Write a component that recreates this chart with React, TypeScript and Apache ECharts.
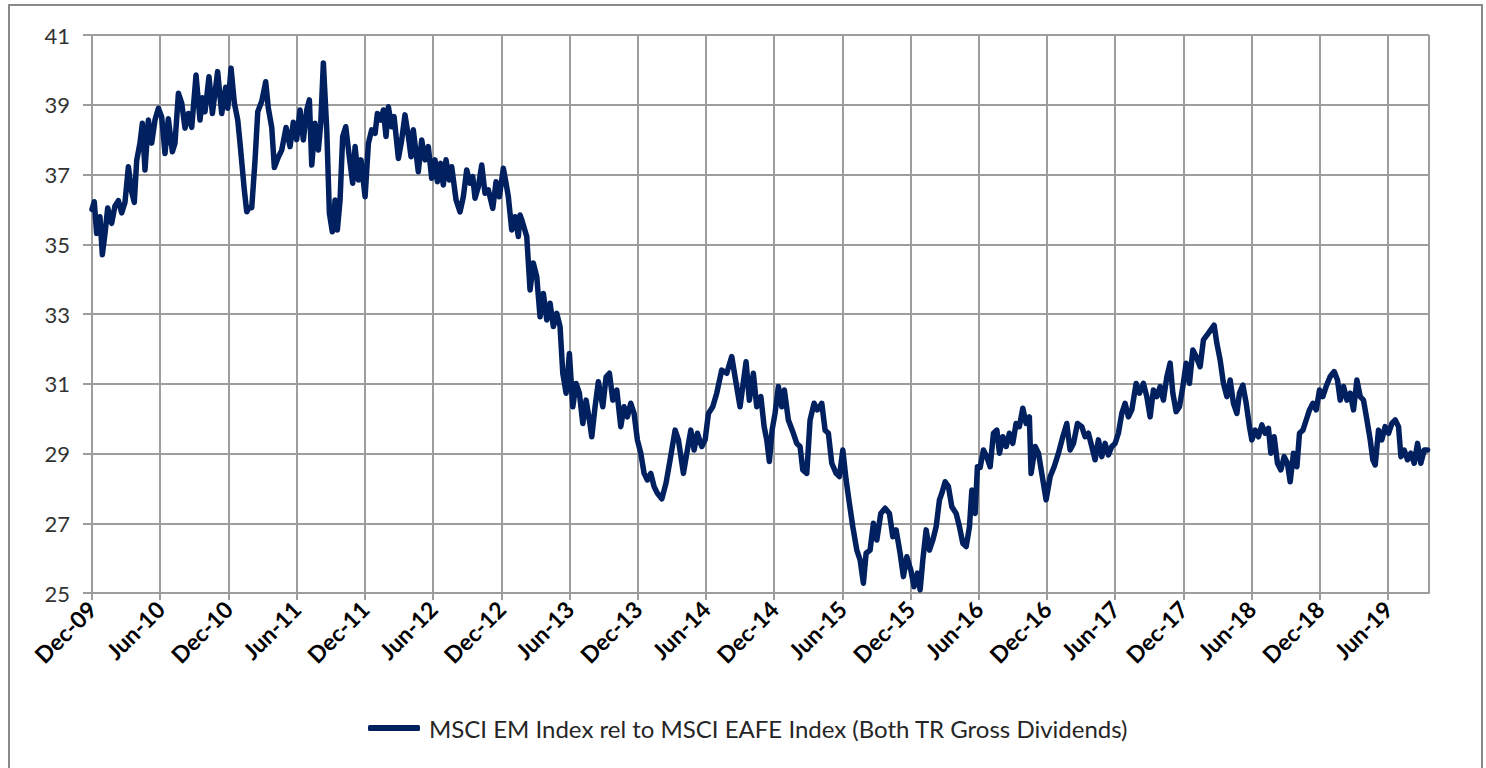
import React, { useEffect, useRef } from 'react';
import * as echarts from 'echarts';

const SERIES_NAME = 'MSCI EM Index rel to MSCI EAFE Index (Both TR Gross Dividends)';

const xTickLabels = [
  'Dec-09', 'Jun-10', 'Dec-10', 'Jun-11', 'Dec-11', 'Jun-12', 'Dec-12', 'Jun-13', 'Dec-13', 'Jun-14',
  'Dec-14', 'Jun-15', 'Dec-15', 'Jun-16', 'Dec-16', 'Jun-17', 'Dec-17', 'Jun-18', 'Dec-18', 'Jun-19',
];

// months elapsed since Dec-09
const months = [
  0, 0.2, 0.41, 0.7, 0.91, 1.14, 1.38, 1.73, 2.02, 2.32, 2.61, 2.9, 3.2, 3.49, 3.72, 3.93, 4.22, 4.43, 4.66, 4.96,
  5.25, 5.54, 5.84, 6.13, 6.42, 6.71, 7.07, 7.3, 7.6, 7.89, 8.18, 8.48, 8.77, 9.15, 9.5, 9.71, 9.94, 10.29, 10.59, 11.05,
  11.41, 11.76, 11.94, 12.23, 12.52, 12.82, 13.02, 13.4, 13.61, 13.81, 14.05, 14.34, 14.58, 14.93, 15.28, 15.51, 15.81, 16.04, 16.39, 16.69,
  17.07, 17.42, 17.71, 18.0, 18.3, 18.59, 18.89, 19.12, 19.33, 19.62, 19.91, 20.12, 20.35, 20.65, 20.88, 21.14, 21.38, 21.58, 21.82, 22.05,
  22.32, 22.63, 22.93, 23.14, 23.43, 23.66, 24.02, 24.31, 24.6, 24.9, 25.1, 25.4, 25.63, 25.86, 26.07, 26.36, 26.57, 26.95, 27.24, 27.53,
  27.83, 28.06, 28.26, 28.7, 29.0, 29.29, 29.58, 29.88, 30.17, 30.38, 30.67, 30.9, 31.14, 31.43, 31.64, 32.02, 32.37, 32.66, 32.96, 33.25,
  33.49, 33.69, 33.98, 34.28, 34.57, 34.86, 35.25, 35.54, 35.83, 36.18, 36.42, 36.62, 36.92, 37.21, 37.5, 37.65, 37.8, 38.24, 38.53, 38.82,
  39.12, 39.41, 39.7, 40.0, 40.29, 40.58, 40.88, 41.17, 41.41, 41.7, 41.99, 42.29, 42.58, 42.87, 43.17, 43.46, 43.75, 43.96, 44.25, 44.54,
  44.93, 45.22, 45.51, 45.81, 46.16, 46.51, 46.8, 47.09, 47.39, 47.68, 47.97, 48.27, 48.56, 48.85, 49.15, 49.44, 49.73, 50.12, 50.49, 50.85,
  51.29, 51.58, 52.02, 52.32, 52.67, 52.96, 53.25, 53.64, 53.93, 54.22, 54.6, 54.95, 55.39, 55.83, 56.27, 56.56, 57.0, 57.53, 57.82, 58.17,
  58.47, 58.83, 59.12, 59.35, 59.58, 59.82, 60.08, 60.37, 60.67, 60.9, 61.25, 61.69, 61.99, 62.28, 62.52, 62.87, 63.16, 63.51, 63.8, 64.19,
  64.48, 64.77, 65.07, 65.45, 65.74, 66.04, 66.33, 66.62, 66.92, 67.27, 67.56, 67.85, 68.09, 68.44, 68.73, 69.03, 69.38, 69.76, 70.14, 70.44,
  70.73, 71.08, 71.37, 71.67, 72.02, 72.31, 72.6, 72.84, 73.08, 73.37, 73.66, 73.96, 74.25, 74.54, 74.75, 75.04, 75.33, 75.63, 76.01, 76.3,
  76.6, 76.89, 77.18, 77.39, 77.68, 77.88, 78.12, 78.41, 78.7, 79.0, 79.29, 79.59, 79.82, 80.11, 80.41, 80.69, 80.99, 81.28, 81.57, 81.87,
  82.16, 82.45, 82.6, 82.96, 83.25, 83.54, 83.92, 84.28, 84.63, 85.01, 85.39, 85.74, 86.03, 86.33, 86.68, 87.06, 87.35, 87.64, 87.94, 88.23,
  88.52, 88.82, 89.11, 89.4, 89.7, 89.99, 90.28, 90.58, 90.87, 91.16, 91.46, 91.84, 92.13, 92.48, 92.78, 93.07, 93.36, 93.66, 93.95, 94.24,
  94.54, 94.83, 95.07, 95.36, 95.65, 95.95, 96.24, 96.53, 96.83, 97.12, 97.47, 97.76, 98.2, 98.7, 98.94, 99.23, 99.52, 99.82, 100.11, 100.4,
  100.7, 100.93, 101.23, 101.52, 101.81, 102.02, 102.31, 102.6, 102.9, 103.19, 103.48, 103.69, 103.98, 104.27, 104.57, 104.86, 105.15, 105.39, 105.68, 105.98,
  106.21, 106.51, 106.8, 107.09, 107.39, 107.68, 107.97, 108.26, 108.55, 108.9, 109.26, 109.55, 109.79, 110.08, 110.38, 110.67, 110.96, 111.26, 111.55, 111.84,
  112.14, 112.43, 112.66, 112.87, 113.16, 113.45, 113.74, 114.04, 114.33, 114.63, 114.92, 115.13, 115.42, 115.71, 116.0, 116.3, 116.59, 116.88, 117.18, 117.47,
];

const values = [
  36.0, 36.22, 35.31, 35.79, 34.7, 35.3, 36.04, 35.6, 36.1, 36.25, 35.9, 36.2, 37.22, 36.5, 36.2, 37.4, 37.9, 38.47, 37.13, 38.56,
  37.9, 38.56, 38.9, 38.65, 37.6, 38.6, 37.65, 37.9, 39.33, 39.05, 38.33, 38.75, 38.35, 39.85, 38.56, 39.2, 38.8, 39.8, 38.75, 39.95,
  38.75, 39.5, 38.9, 40.05, 39.05, 38.56, 37.9, 36.55, 35.93, 36.05, 36.05, 37.4, 38.8, 39.1, 39.66, 38.9, 38.35, 37.2, 37.5, 37.7,
  38.35, 37.8, 38.5, 38.0, 38.85, 37.99, 38.85, 39.14, 37.27, 38.47, 37.7, 38.47, 40.2, 38.28, 35.89, 35.36, 36.27, 35.41, 36.27, 38.09,
  38.37, 37.51, 36.75, 37.8, 36.84, 37.42, 36.36, 37.89, 38.28, 38.18, 38.75, 38.56, 38.85, 38.09, 38.94, 38.37, 38.66, 37.46, 37.99, 38.71,
  38.09, 37.51, 38.28, 37.08, 37.99, 37.42, 37.8, 36.89, 37.42, 36.79, 37.32, 36.7, 37.42, 36.84, 37.22, 36.27, 35.93, 36.36, 37.13, 36.75,
  36.94, 36.32, 36.65, 37.27, 36.46, 36.56, 36.03, 36.79, 36.36, 37.18, 36.75, 36.36, 35.41, 35.79, 35.22, 35.84, 35.7, 35.22, 33.69, 34.46,
  34.07, 32.92, 33.59, 32.83, 33.31, 32.64, 33.02, 32.64, 31.3, 30.73, 31.87, 30.34, 31.01, 30.73, 29.86, 30.53, 29.96, 29.48, 30.34, 31.06,
  30.34, 31.2, 31.3, 30.53, 30.82, 29.77, 30.34, 30.05, 30.44, 30.15, 29.39, 29.01, 28.43, 28.24, 28.43, 28.05, 27.86, 27.7, 28.15, 28.82,
  29.67, 29.39, 28.43, 29.01, 29.67, 29.1, 29.58, 29.2, 29.39, 30.15, 30.34, 30.73, 31.39, 31.3, 31.78, 31.2, 30.34, 31.63, 30.53, 31.3,
  30.34, 30.63, 29.77, 29.39, 28.77, 29.67, 30.15, 30.92, 30.34, 30.82, 29.96, 29.58, 29.29, 29.2, 28.53, 28.43, 29.96, 30.44, 30.25, 30.44,
  29.67, 29.58, 28.72, 28.43, 28.34, 29.1, 28.24, 27.57, 26.9, 26.23, 25.95, 25.28, 26.14, 26.23, 27.0, 26.52, 27.28, 27.43, 27.28, 26.61,
  26.81, 26.14, 25.47, 26.04, 25.66, 25.18, 25.57, 25.09, 25.95, 26.81, 26.23, 26.52, 26.9, 27.67, 27.86, 28.19, 28.05, 27.47, 27.28, 26.9,
  26.42, 26.33, 26.9, 27.95, 27.28, 28.62, 28.6, 29.1, 28.91, 28.62, 29.58, 29.67, 29.01, 29.48, 29.2, 29.58, 29.29, 29.86, 29.77, 30.3,
  29.86, 30.05, 28.43, 29.2, 29.01, 28.43, 27.67, 28.34, 28.62, 29.01, 29.48, 29.86, 29.1, 29.29, 29.86, 29.77, 29.48, 29.58, 29.2, 28.82,
  29.39, 28.91, 29.29, 28.96, 29.2, 29.29, 29.58, 30.15, 30.44, 30.05, 30.25, 31.01, 30.73, 31.01, 30.63, 30.05, 30.82, 30.63, 30.92, 30.53,
  31.2, 31.59, 30.73, 30.2, 30.34, 30.92, 31.59, 31.01, 31.97, 31.78, 31.49, 32.26, 32.45, 32.68, 32.16, 31.68, 31.01, 30.63, 31.11, 30.44,
  30.15, 30.73, 30.96, 30.44, 29.77, 29.39, 29.67, 29.48, 29.82, 29.58, 29.72, 29.01, 29.48, 28.72, 28.53, 28.91, 28.72, 28.19, 29.01, 28.62,
  29.58, 29.67, 29.96, 30.25, 30.44, 30.25, 30.82, 30.63, 30.92, 31.2, 31.35, 31.11, 30.53, 30.92, 30.53, 30.73, 30.25, 31.11, 30.63, 30.53,
  29.96, 29.39, 28.82, 28.67, 29.67, 29.39, 29.77, 29.58, 29.86, 29.96, 29.77, 28.91, 29.1, 28.82, 29.01, 28.72, 29.29, 28.72, 29.1, 29.1,
];

const Y_MIN = 25;
const Y_MAX = 41;
const Y_STEP = 2;
const X_STEP = 6;
const X_END = 117.6;

const FONT = 'Lato, "Open Sans", sans-serif';
const GRID_COLOR = '#9d9d9d';
const LINE_COLOR = '#002060';

export default function App() {
  const ref = useRef<HTMLDivElement>(null);

  useEffect(() => {
    if (!ref.current) return;
    const chart = echarts.init(ref.current, undefined, { renderer: 'svg' });
    const data = months.map((m, i) => [m, values[i]]);
    chart.setOption({
      animation: false,
      backgroundColor: '#ffffff',
      graphic: [
        {
          type: 'rect',
          shape: { x: 9, y: 5, width: 1473, height: 800 },
          style: { fill: 'none', stroke: '#8a8a8a', lineWidth: 2 },
          silent: true,
        },
      ],
      grid: { left: 92, top: 35, right: 57, bottom: 175, containLabel: false },
      legend: {
        data: [{ name: SERIES_NAME, icon: 'roundRect', itemStyle: { color: LINE_COLOR } }],
        left: 368,
        top: 716,
        padding: 0,
        itemWidth: 52,
        itemHeight: 6,
        textStyle: { fontFamily: FONT, fontSize: 24, color: '#262626', padding: [0, 0, 0, 4] },
      },
      xAxis: {
        type: 'value',
        min: 0,
        max: X_END,
        interval: X_STEP,
        axisLine: { show: true, lineStyle: { color: GRID_COLOR, width: 2 } },
        axisTick: { show: true, length: 7, lineStyle: { color: GRID_COLOR, width: 2 } },
        splitLine: { show: true, lineStyle: { color: GRID_COLOR, width: 2 } },
        axisLabel: {
          rotate: 45,
          margin: 12,
          showMaxLabel: false,
          fontFamily: FONT,
          fontWeight: 'bold',
          fontSize: 23,
          color: '#000000',
          formatter: (v: number) => {
            const idx = Math.round(v / X_STEP);
            return Math.abs(v - idx * X_STEP) < 1e-6 && xTickLabels[idx] ? xTickLabels[idx] : '';
          },
        },
      },
      yAxis: {
        type: 'value',
        min: Y_MIN,
        max: Y_MAX,
        interval: Y_STEP,
        axisLine: { show: true, lineStyle: { color: GRID_COLOR, width: 2 } },
        axisTick: { show: true, length: 9, lineStyle: { color: GRID_COLOR, width: 2 } },
        splitLine: { show: true, lineStyle: { color: GRID_COLOR, width: 2 } },
        axisLabel: {
          margin: 22,
          fontFamily: FONT,
          fontSize: 22,
          color: '#333333',
        },
      },
      series: [
        {
          name: SERIES_NAME,
          type: 'line',
          data,
          showSymbol: false,
          symbol: 'none',
          lineStyle: { color: LINE_COLOR, width: 5.5, join: 'round', cap: 'round' },
          itemStyle: { color: LINE_COLOR },
        },
      ],
    });
    return () => chart.dispose();
  }, []);

  return (
    <div
      ref={ref}
      style={{ position: 'fixed', left: 0, top: 0, width: 1486, height: 768, background: '#fff' }}
    />
  );
}
